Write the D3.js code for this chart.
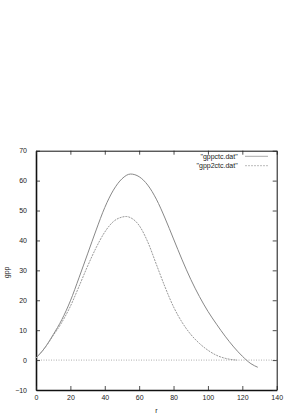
<!DOCTYPE html>
<html>
<head>
<meta charset="utf-8">
<script src="https://cdn.jsdelivr.net/npm/d3@7"></script>
<style>
  body { margin: 0; background: #fff; }
  text { font-family: "Liberation Sans", Arial, sans-serif; fill: #222; }
</style>
</head>
<body>
<script>
// values
var rCtc = [0, 5, 10, 15, 20, 25, 30, 35, 40, 45, 50, 55, 60, 65, 70, 75, 80, 85, 90, 95, 100, 105, 110, 115, 120, 125, 129];
var gppCtc = [0.7, 4, 8.5, 13.5, 19.8, 27.5, 35.5, 43.5, 51, 56.8, 60.6, 62.2, 61.3, 58.5, 53.8, 47.5, 40.5, 33.5, 27, 21.3, 16.3, 12, 8, 4.4, 1.3, -1.2, -2.4];
var rCtc2 = [0, 5, 10, 15, 20, 25, 30, 35, 40, 45, 50, 52.5, 55, 60, 65, 70, 75, 80, 85, 90, 95, 100, 105, 110, 115, 117];
var gpp2Ctc = [0.7, 4, 8.2, 12.6, 18, 24.6, 31.4, 37.6, 42.8, 46.3, 47.8, 48, 47.6, 45, 39.5, 32, 24.5, 17.8, 12.6, 8.6, 5.6, 3.3, 1.6, 0.6, 0.1, 0];
var xTicks = [0, 20, 40, 60, 80, 100, 120, 140];
var yTicks = [-10, 0, 10, 20, 30, 40, 50, 60, 70];
var seriesNames = ['"gppctc.dat"', '"gpp2ctc.dat"'];

function main() {
    var width = 291, height = 415;
    var pLeft = 36, pRight = 276.7, pTop = 150.7, pBottom = 390;

    var svg = d3.select('body').append('svg')
        .attr('width', width)
        .attr('height', height);

    var x = d3.scaleLinear().domain([0, 140]).range([pLeft, pRight]);
    var y = d3.scaleLinear().domain([-10, 70]).range([pBottom, pTop]);

    // zero axis (dotted)
    svg.append('line')
        .attr('x1', x(0)).attr('x2', x(140))
        .attr('y1', y(0)).attr('y2', y(0))
        .attr('stroke', '#999')
        .attr('stroke-width', 0.8)
        .attr('stroke-dasharray', '1,1.5');

    // axes, ticks point inward
    var axL = svg.append('g').attr('transform', 'translate(' + pLeft + ',0)')
        .call(d3.axisLeft(y).tickValues(yTicks).tickSize(-4).tickSizeOuter(0).tickPadding(9));
    var axB = svg.append('g').attr('transform', 'translate(0,' + pBottom + ')')
        .call(d3.axisBottom(x).tickValues(xTicks).tickSize(-4).tickSizeOuter(0).tickPadding(5.5));
    var axT = svg.append('g').attr('transform', 'translate(0,' + pTop + ')')
        .call(d3.axisTop(x).tickValues(xTicks).tickSize(-4).tickSizeOuter(0).tickFormat(''));
    var axR = svg.append('g').attr('transform', 'translate(' + pRight + ',0)')
        .call(d3.axisRight(y).tickValues(yTicks).tickSize(-4).tickSizeOuter(0).tickFormat(''));

    [axL, axB, axT, axR].forEach(function (a) {
        a.selectAll('text').attr('font-size', '7px').attr('font-family', '"Liberation Sans", Arial, sans-serif').attr('fill', '#222');
        a.selectAll('line').attr('stroke', '#222').attr('stroke-width', 0.8);
        a.select('.domain').attr('stroke', '#111').attr('stroke-width', 1);
    });
    axL.select('.domain').attr('stroke-width', 1.6);
    axB.select('.domain').attr('stroke-width', 1.6);

    // axis titles
    svg.append('text')
        .attr('x', (pLeft + pRight) / 2).attr('y', 413)
        .attr('text-anchor', 'middle')
        .attr('font-size', '7px')
        .text('r');
    svg.append('text')
        .attr('transform', 'translate(9,' + ((pTop + pBottom) / 2 + 2) + ') rotate(-90)')
        .attr('text-anchor', 'middle')
        .attr('font-size', '7px')
        .text('gpp');

    var line = d3.line()
        .x(function (d) { return x(d[0]); })
        .y(function (d) { return y(d[1]); })
        .curve(d3.curveMonotoneX);

    svg.append('path')
        .attr('d', line(d3.zip(rCtc, gppCtc)))
        .attr('fill', 'none')
        .attr('stroke', '#888')
        .attr('stroke-width', 1);

    svg.append('path')
        .attr('d', line(d3.zip(rCtc2, gpp2Ctc)))
        .attr('fill', 'none')
        .attr('stroke', '#999')
        .attr('stroke-width', 1)
        .attr('stroke-dasharray', '2,1');

    // legend
    var legend = svg.append('g');
    seriesNames.forEach(function (name, i) {
        var ly = 156.3 + i * 9.4;
        legend.append('text')
            .attr('x', 237.7).attr('y', ly + 2.3)
            .attr('text-anchor', 'end')
            .attr('font-size', '7px')
            .text(name);
        legend.append('line')
            .attr('x1', 245).attr('x2', 268)
            .attr('y1', ly).attr('y2', ly)
            .attr('stroke', i === 0 ? '#aaa' : '#bbb')
            .attr('stroke-width', 1)
            .attr('stroke-dasharray', i === 0 ? null : '2,1');
    });
}

main();
</script>
</body>
</html>
